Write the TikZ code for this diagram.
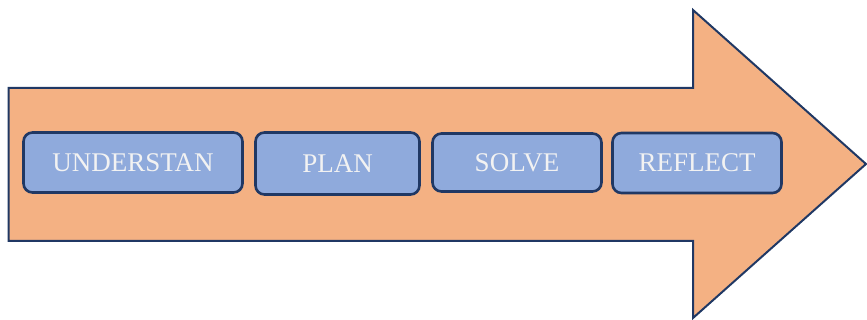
\documentclass[tikz,border=0pt]{standalone}
\usepackage{fontspec}
\setmainfont{Liberation Serif}
\usetikzlibrary{positioning}
\definecolor{arrfill}{HTML}{F4B183}
\definecolor{navy}{HTML}{203864}
\definecolor{stepfill}{HTML}{8FAADC}
\tikzset{
  bigarr/.style={draw=navy,fill=arrfill,line width=2pt,line join=miter},
  stepbox/.style={draw=navy,fill=stepfill,rectangle,rounded corners=9pt,line width=2.6pt,
    minimum height=60pt,text=white!95!black,font=\fontsize{27}{31}\selectfont,inner sep=0pt}
}
\begin{document}
\begin{tikzpicture}[x=1pt,y=-1pt]
  \useasboundingbox (0,0) rectangle (867,320);
  % Big arrow
  \draw[bigarr] (8.5,88) -- (693,88) -- (693,10) -- (866,164) -- (693,318) -- (693,241) -- (8.5,241) -- cycle;

  % Steps
  \node[stepbox, minimum width=219pt] (understand) at (133,162.5) {UNDERSTAN};
  \node[stepbox, minimum width=164pt, minimum height=62pt] (plan) at (337.5,163.5) {PLAN};
  \node[stepbox, minimum width=169pt, minimum height=58pt] (solve) at (517,162.5) {SOLVE};
  \node[stepbox, minimum width=169pt] (reflect) at (697,163) {REFLECT};
\end{tikzpicture}
\end{document}
